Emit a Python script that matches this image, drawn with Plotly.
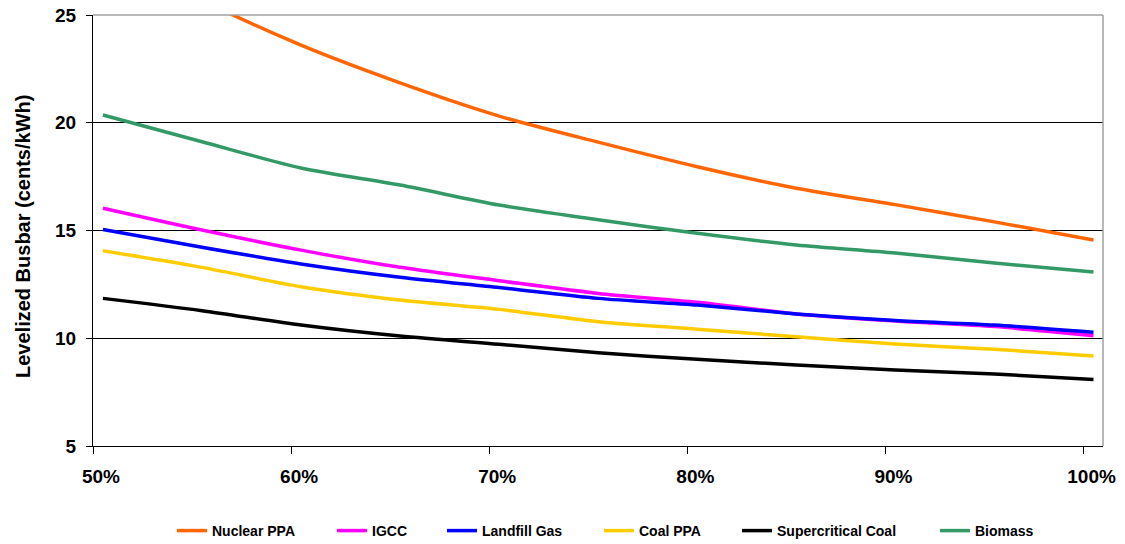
import plotly.graph_objects as go

capacity_factor = [50, 55, 60, 65, 70, 75, 80, 85, 90, 95, 100]

nuclear_ppa = [28.2, 25.7, 23.6, 21.85, 20.31, 19.1, 17.96, 16.96, 16.2, 15.4, 14.56]
igcc = [16.03, 15.02, 14.09, 13.29, 12.67, 12.08, 11.67, 11.13, 10.8, 10.54, 10.12]
landfill_gas = [15.05, 14.22, 13.45, 12.83, 12.35, 11.85, 11.54, 11.13, 10.82, 10.61, 10.28]
coal_ppa = [14.06, 13.29, 12.39, 11.77, 11.34, 10.77, 10.42, 10.07, 9.73, 9.49, 9.18]
supercritical_coal = [11.85, 11.28, 10.61, 10.1, 9.72, 9.33, 9.02, 8.76, 8.53, 8.34, 8.09]
biomass = [20.36, 19.12, 17.9, 17.11, 16.18, 15.5, 14.87, 14.33, 13.96, 13.49, 13.07]

series_names = ["Nuclear PPA", "IGCC", "Landfill Gas", "Coal PPA", "Supercritical Coal", "Biomass"]
series_values = [nuclear_ppa, igcc, landfill_gas, coal_ppa, supercritical_coal, biomass]
series_colors = ["#FF6600", "#FF00FF", "#0000FF", "#FFCC00", "#000000", "#339966"]

x_tick_positions = [49.5, 59.5, 69.5, 79.5, 89.5, 99.5]
x_tick_labels = ["50%", "60%", "70%", "80%", "90%", "100%"]
y_ticks = [5, 10, 15, 20, 25]
y_title = "Levelized Busbar (cents/kWh)"

# legend entry left edges (px) in the 1125 px wide canvas
legend_left_px = [175, 335, 445, 602, 740, 938]

W, H = 1125, 544
L, R, T, B = 93, 22, 15, 98
font_family = "Liberation Sans, Arial, sans-serif"

fig = go.Figure()
legend_ids = ["legend", "legend2", "legend3", "legend4", "legend5", "legend6"]
for name, vals, col, lid in zip(series_names, series_values, series_colors, legend_ids):
    fig.add_trace(go.Scatter(x=capacity_factor, y=vals, mode="lines", name=name,
                             legend=lid,
                             line=dict(color=col, width=3.5, shape="spline", smoothing=0.8)))

legend_layout = {}
for lid, px in zip(legend_ids, legend_left_px):
    legend_layout[lid] = dict(
        xref="container", yref="container",
        x=(px - 3) / W, xanchor="left",
        y=(H - 531) / H, yanchor="middle",
        font=dict(family=font_family, size=14, color="black", weight="bold"),
        bgcolor="rgba(0,0,0,0)", borderwidth=0,
    )

plot_w = W - L - R
plot_h = H - T - B

fig.update_layout(
    width=W, height=H,
    margin=dict(l=L, r=R, t=T, b=B, autoexpand=False),
    paper_bgcolor="white", plot_bgcolor="white",
    font=dict(family=font_family, color="black"),
    showlegend=True,
    xaxis=dict(range=[49.5, 100.48], tickmode="array", tickvals=x_tick_positions,
               ticktext=x_tick_labels, ticks="outside", ticklen=7, tickcolor="black",
               showline=True, linecolor="black", linewidth=1, showgrid=False,
               zeroline=False, ticklabelshift=8, ticklabelstandoff=6,
               tickfont=dict(size=19, family=font_family, weight="bold")),
    yaxis=dict(range=[5, 25], tickmode="array", tickvals=y_ticks, ticks="outside",
               ticklen=6, tickcolor="black", showline=True, linecolor="black", linewidth=1,
               showgrid=True, gridcolor="black", gridwidth=1, zeroline=False,
               ticklabelstandoff=6,
               tickfont=dict(size=19, family=font_family, weight="bold")),
    annotations=[
        dict(text=y_title, textangle=-90, xref="paper", yref="paper",
             x=(23 - L) / plot_w, y=(H - B - 237) / plot_h,
             xanchor="center", yanchor="middle", showarrow=False,
             font=dict(size=20, family=font_family, weight="bold", color="black")),
    ],
    shapes=[
        dict(type="line", xref="paper", yref="paper", x0=0, x1=1, y0=1, y1=1,
             line=dict(color="#A0A0A0", width=1.5), layer="above"),
        dict(type="line", xref="paper", yref="paper", x0=1, x1=1, y0=0, y1=1,
             line=dict(color="#A0A0A0", width=1.5), layer="above"),
    ],
    **legend_layout,
)

fig.write_html("out.html", config={"displayModeBar": False},
               post_script="document.body.style.margin='0px';document.body.style.padding='0px';")
